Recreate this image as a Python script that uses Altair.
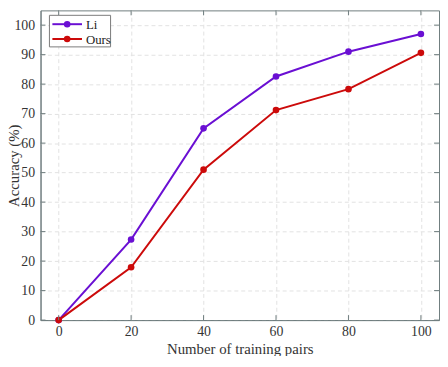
import altair as alt
import pandas as pd

x_vals = [0, 20, 40, 60, 80, 100]
li_vals = [0, 27.3, 65.0, 82.6, 91.0, 97.0]
ours_vals = [0, 17.9, 51.0, 71.2, 78.3, 90.6]
series_names = ["Li", "Ours"]
colors = ["#6a0fd3", "#cc0a0a"]
x_ticks = [0, 20, 40, 60, 80, 100]
y_ticks = [0, 10, 20, 30, 40, 50, 60, 70, 80, 90, 100]

W, H = 404, 314
axis_col = "#6f7d7e"
font = "Liberation Serif"

df = pd.DataFrame({
    "x": x_vals * 2,
    "y": li_vals + ours_vals,
    "s": [series_names[0]] * len(x_vals) + [series_names[1]] * len(x_vals),
})

xs = alt.Scale(domain=[-5, 105], nice=False, zero=False)
ys = alt.Scale(domain=[0, 105], nice=False)
cscale = alt.Scale(domain=series_names, range=colors)

x_axis = alt.Axis(
    values=x_ticks, title="Number of training pairs", grid=True,
    gridDash=[4, 3], gridColor="#e2e2e2", tickSize=0, labelPadding=5,
    labelOverlap=False, labelFlush=False,
    domainColor=axis_col, labelFont=font, labelFontSize=14, labelColor="#333333",
    titleFont=font, titleFontSize=15, titleFontWeight="normal", titleColor="#333333",
    titlePadding=3)
y_axis = alt.Axis(
    values=y_ticks, title="Accuracy (%)", grid=True,
    gridDash=[4, 3], gridColor="#e2e2e2", tickSize=0, labelPadding=6,
    labelOverlap=False, labelFlush=False,
    domainColor=axis_col, labelFont=font, labelFontSize=14, labelColor="#333333",
    titleFont=font, titleFontSize=15, titleFontWeight="normal", titleColor="#333333",
    titleX=-27, titleY=H / 2, titleBaseline="middle", titleAlign="center", titleAngle=270)

base = alt.Chart(df)
lines = base.mark_line(strokeWidth=2).encode(
    x=alt.X("x:Q", scale=xs, axis=x_axis),
    y=alt.Y("y:Q", scale=ys, axis=y_axis),
    color=alt.Color("s:N", scale=cscale, legend=None),
)
points = base.mark_circle(size=45, opacity=1).encode(
    x=alt.X("x:Q", scale=xs, axis=x_axis), y=alt.Y("y:Q", scale=ys, axis=y_axis),
    color=alt.Color("s:N", scale=cscale, legend=None),
)

xt = alt.Chart(pd.DataFrame({"x": x_ticks}))
yt = alt.Chart(pd.DataFrame({"y": y_ticks}))
tick_bottom = xt.mark_rule(color=axis_col).encode(x=alt.X("x:Q", scale=xs, axis=x_axis), y=alt.value(H), y2=alt.value(H - 5))
tick_top = xt.mark_rule(color=axis_col).encode(x=alt.X("x:Q", scale=xs, axis=x_axis), y=alt.value(0), y2=alt.value(5))
tick_left = yt.mark_rule(color=axis_col).encode(y=alt.Y("y:Q", scale=ys, axis=y_axis), x=alt.value(0), x2=alt.value(5))
tick_right = yt.mark_rule(color=axis_col).encode(y=alt.Y("y:Q", scale=ys, axis=y_axis), x=alt.value(W), x2=alt.value(W - 5))

# manual legend
one = alt.Chart(pd.DataFrame({"a": [0]}))
legend_layers = [
    one.mark_rect(fill="white", stroke="#7a7a7a", strokeWidth=1).encode(
        x=alt.value(9), x2=alt.value(71), y=alt.value(5), y2=alt.value(37))
]
for i, name in enumerate(series_names):
    yy = 14 + 15 * i
    legend_layers.append(one.mark_rule(color=colors[i], strokeWidth=2).encode(
        x=alt.value(12), x2=alt.value(42), y=alt.value(yy)))
    legend_layers.append(one.mark_circle(color=colors[i], size=45, opacity=1).encode(
        x=alt.value(27), y=alt.value(yy)))
    legend_layers.append(one.mark_text(align="left", baseline="middle", font=font,
                                       fontSize=13, color="#222222").encode(
        x=alt.value(46), y=alt.value(yy + 1), text=alt.value(name)))

chart = alt.layer(lines, points, tick_bottom, tick_top, tick_left, tick_right,
                  *legend_layers).properties(
    width=W, height=H,
    autosize=alt.AutoSizeParams(type="none"),
    padding={"left": 33, "top": 0, "right": 1, "bottom": 34},
).configure_view(stroke=axis_col, strokeWidth=1)

chart.save("out.html", embed_options={"renderer": "svg", "actions": False})
